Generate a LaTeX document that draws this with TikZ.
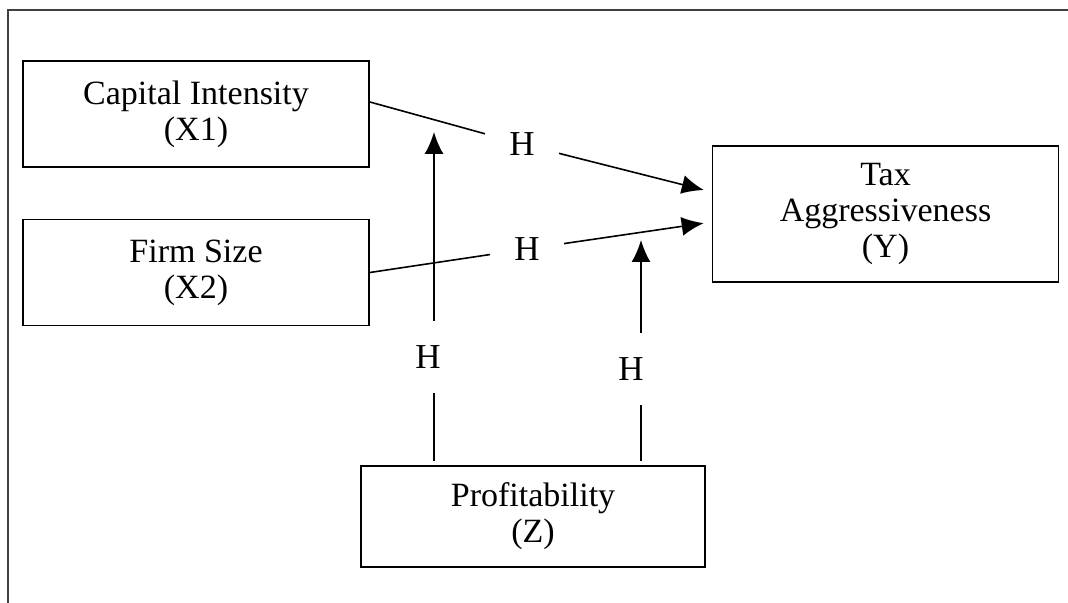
\documentclass[tikz,border=0pt]{standalone}
\usepackage{fontspec}
\setmainfont{Liberation Serif}
\usetikzlibrary{arrows.meta}

\tikzset{
  varbox/.style={draw, line width=0.9pt, align=center, minimum width=173pt,
    minimum height=53pt, font=\fontsize{17}{18}\selectfont},
  hyp/.style={inner sep=12pt, font=\fontsize{17.5}{18}\selectfont},
  link/.style={line width=0.8pt},
  arr/.style={line width=0.8pt, -{Latex[length=11pt,width=9.5pt]}}
}

\begin{document}
\begin{tikzpicture}[x=0.5pt,y=-0.5pt]
  \useasboundingbox (0,0) rectangle (1068,603);
  \draw [line width=1pt, black!75] (7.5,603) -- (7.5,10) -- (1068,10);
  % variables
  \node [varbox] (x1) at (196,114) {Capital Intensity\\(X1)};
  \node [varbox] (x2) at (196,272.5) {Firm Size\\(X2)};
  \node [varbox, minimum height=68pt] (y) at (885.5,214) {Tax\\Aggressiveness\\(Y)};
  \node [varbox, minimum width=172pt, minimum height=50.5pt] (z) at (533,516.5) {Profitability\\(Z)};
  % hypotheses
  \node [hyp] (h1) at (522,144) {H};
  \node [hyp] (h2) at (527,249) {H};
  \node [hyp] (h3) at (428,357) {H};
  \node [hyp] (h4) at (631,369) {H};
  \coordinate (t1) at (434,132);
  \coordinate (t2) at (641,240);
  % paths
  \draw [link] ([yshift=6pt]x1.east) -- (h1);
  \draw [arr, shorten >=4pt] (h1) -- ([yshift=11pt]y.west);
  \draw [link] (x2.east) -- (h2);
  \draw [arr, shorten >=4pt] (h2) -- ([yshift=-4pt]y.west);
  \draw [link, shorten <=2pt] (z.north -| t1) -- (h3.south -| t1);
  \draw [arr] (h3.north -| t1) -- (t1);
  \draw [link, shorten <=2pt] (z.north -| t2) -- (h4.south -| t2);
  \draw [arr] (h4.north -| t2) -- (t2);
\end{tikzpicture}
\end{document}
